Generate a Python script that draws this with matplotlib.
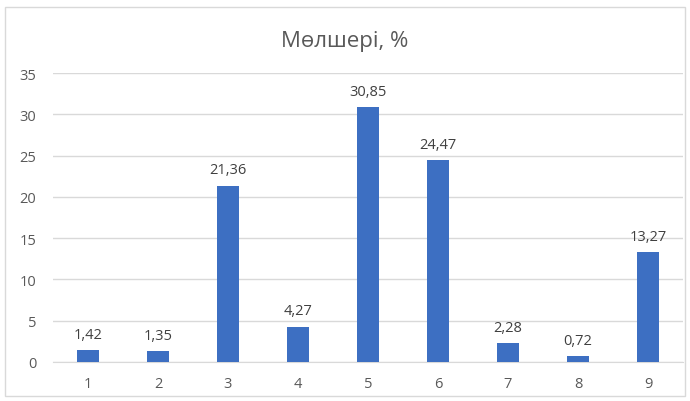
import matplotlib
matplotlib.use("Agg")
import matplotlib.pyplot as plt
from matplotlib.patches import Rectangle

plt.rcParams['font.family'] = ['Open Sans', 'DejaVu Sans']

categories = ['1', '2', '3', '4', '5', '6', '7', '8', '9']
values = [1.42, 1.35, 21.36, 4.27, 30.85, 24.47, 2.28, 0.72, 13.27]
labels = ['1,42', '1,35', '21,36', '4,27', '30,85', '24,47', '2,28', '0,72', '13,27']
yticks = [0, 5, 10, 15, 20, 25, 30, 35]
title = 'Мөлшері, %'

fig = plt.figure(figsize=(6.9, 4.02), dpi=100)
fig.patch.set_facecolor('white')
fig.patches.append(Rectangle((5/690, 5/402), 680/690, 389/402, transform=fig.transFigure,
                             fill=False, edgecolor='#d9d9d9', linewidth=1.0))
ax = fig.add_axes([53/690, 39/402, 630/690, 289/402])

x = list(range(len(categories)))
ax.bar(x, values, width=0.31, color='#3d6fc2', zorder=3)
for xi, v, lab in zip(x, values, labels):
    ax.text(xi, v + 1.0, lab, ha='center', va='bottom', fontsize=10.5, color='#404040')

ax.set_xlim(-0.5, len(categories) - 0.5)
ax.set_ylim(0, 35)
ax.set_yticks(yticks)
ax.set_yticklabels([str(t) for t in yticks])
ax.set_xticks(x)
ax.set_xticklabels(categories)
ax.yaxis.grid(True, color='#d9d9d9', linewidth=1.0, zorder=0)
ax.tick_params(axis='both', length=0, labelsize=10.5, colors='#595959')
ax.tick_params(axis='y', pad=12)
ax.tick_params(axis='x', pad=10)
for s in ['top', 'right', 'left']:
    ax.spines[s].set_visible(False)
ax.spines['bottom'].set_color('#d9d9d9')
ax.set_facecolor('white')

fig.text(0.5, 361/402, title, ha='center', va='center', fontsize=16, color='#595959')

fig.savefig('out.png', dpi=100)
